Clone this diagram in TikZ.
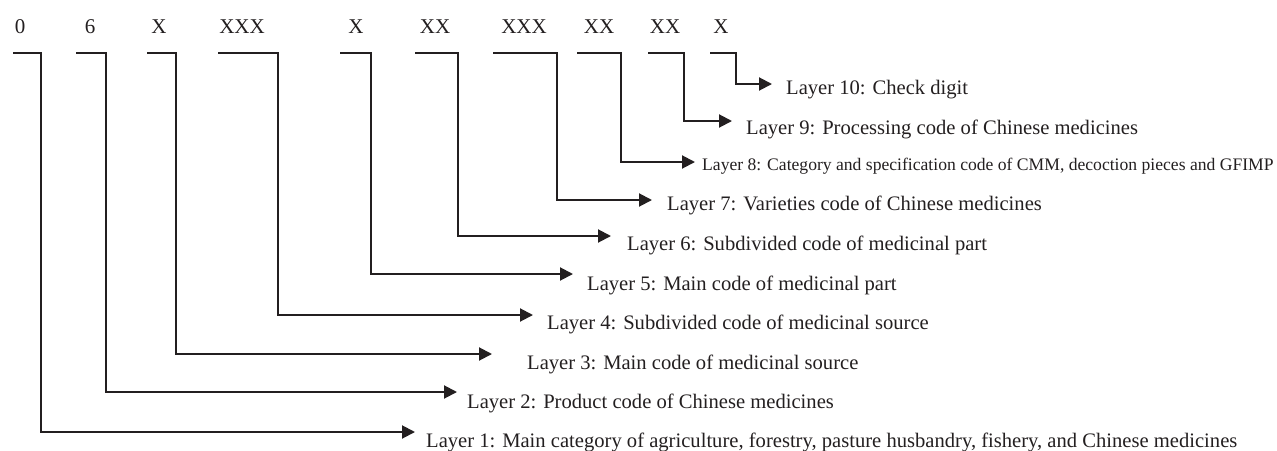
\documentclass[tikz,border=0pt]{standalone}
\usepackage{fontspec}
\setmainfont{Liberation Serif}
\usepackage{xcolor}
\usepackage{tikz}
\usetikzlibrary{arrows.meta, positioning, calc}

\definecolor{ink}{HTML}{231F20}

\begin{document}
\begin{tikzpicture}[
    x=1pt, y=-1pt,
    >={Triangle[length=13pt, width=13pt]},
    code/.style={anchor=base, inner sep=0pt, text=ink, font=\fontsize{21}{24}\selectfont},
    layer/.style={anchor=base west, inner sep=0pt, text=ink, font=\fontsize{20.6}{24}\selectfont},
    conn/.style={->, draw=ink, line width=2pt, line join=miter}
]
\useasboundingbox (0,0) rectangle (1277,450);

% Code digits
\node[code] (c1) at (20, 33) {0};
\node[code] (c2) at (90, 33) {6};
\node[code] (c3) at (159, 33) {X};
\node[code] (c4) at (242, 33) {XXX};
\node[code] (c5) at (356, 33) {X};
\node[code] (c6) at (435, 33) {XX};
\node[code] (c7) at (524, 33) {XXX};
\node[code] (c8) at (599, 33) {XX};
\node[code] (c9) at (665, 33) {XX};
\node[code] (c10) at (721, 33) {X};

% Bracket starts
\coordinate (s1) at (13, 53);
\coordinate (s2) at (76, 53);
\coordinate (s3) at (147, 53);
\coordinate (s4) at (218, 53);
\coordinate (s5) at (340, 53);
\coordinate (s6) at (415, 53);
\coordinate (s7) at (493, 53);
\coordinate (s8) at (577, 53);
\coordinate (s9) at (648, 53);
\coordinate (s10) at (710, 53);

% Arrow tips
\coordinate (t1) at (415, 432);
\coordinate (t2) at (457, 392);
\coordinate (t3) at (492, 354);
\coordinate (t4) at (533, 315);
\coordinate (t5) at (573, 274);
\coordinate (t6) at (611, 236);
\coordinate (t7) at (652, 200);
\coordinate (t8) at (695, 162);
\coordinate (t9) at (732, 121);
\coordinate (t10) at (772, 84);

% Layer labels
\node[layer] (l1) at (426, 447) {Layer 1: Main category of agriculture, forestry, pasture husbandry, fishery, and Chinese medicines};
\node[layer] (l2) at (467, 408) {Layer 2: Product code of Chinese medicines};
\node[layer] (l3) at (527, 369) {Layer 3: Main code of medicinal source};
\node[layer] (l4) at (547, 329) {Layer 4: Subdivided code of medicinal source};
\node[layer] (l5) at (587, 290) {Layer 5: Main code of medicinal part};
\node[layer] (l6) at (627, 250) {Layer 6: Subdivided code of medicinal part};
\node[layer] (l7) at (667, 210) {Layer 7: Varieties code of Chinese medicines};
\node[layer, font=\fontsize{17.6}{21}\selectfont] (l8) at (702, 170) {Layer 8: Category and specification code of CMM, decoction pieces and GFIMP};
\node[layer] (l9) at (746, 134) {Layer 9: Processing code of Chinese medicines};
\node[layer] (l10) at (786, 94) {Layer 10: Check digit};

% Connectors
\draw[conn] (s1) -| (41, 432) -- (t1);
\draw[conn] (s2) -| (106, 392) -- (t2);
\draw[conn] (s3) -| (176, 354) -- (t3);
\draw[conn] (s4) -| (278, 315) -- (t4);
\draw[conn] (s5) -| (371, 274) -- (t5);
\draw[conn] (s6) -| (458, 236) -- (t6);
\draw[conn] (s7) -| (557, 200) -- (t7);
\draw[conn] (s8) -| (621, 162) -- (t8);
\draw[conn] (s9) -| (684, 121) -- (t9);
\draw[conn] (s10) -| (736, 84) -- (t10);

\end{tikzpicture}
\end{document}
